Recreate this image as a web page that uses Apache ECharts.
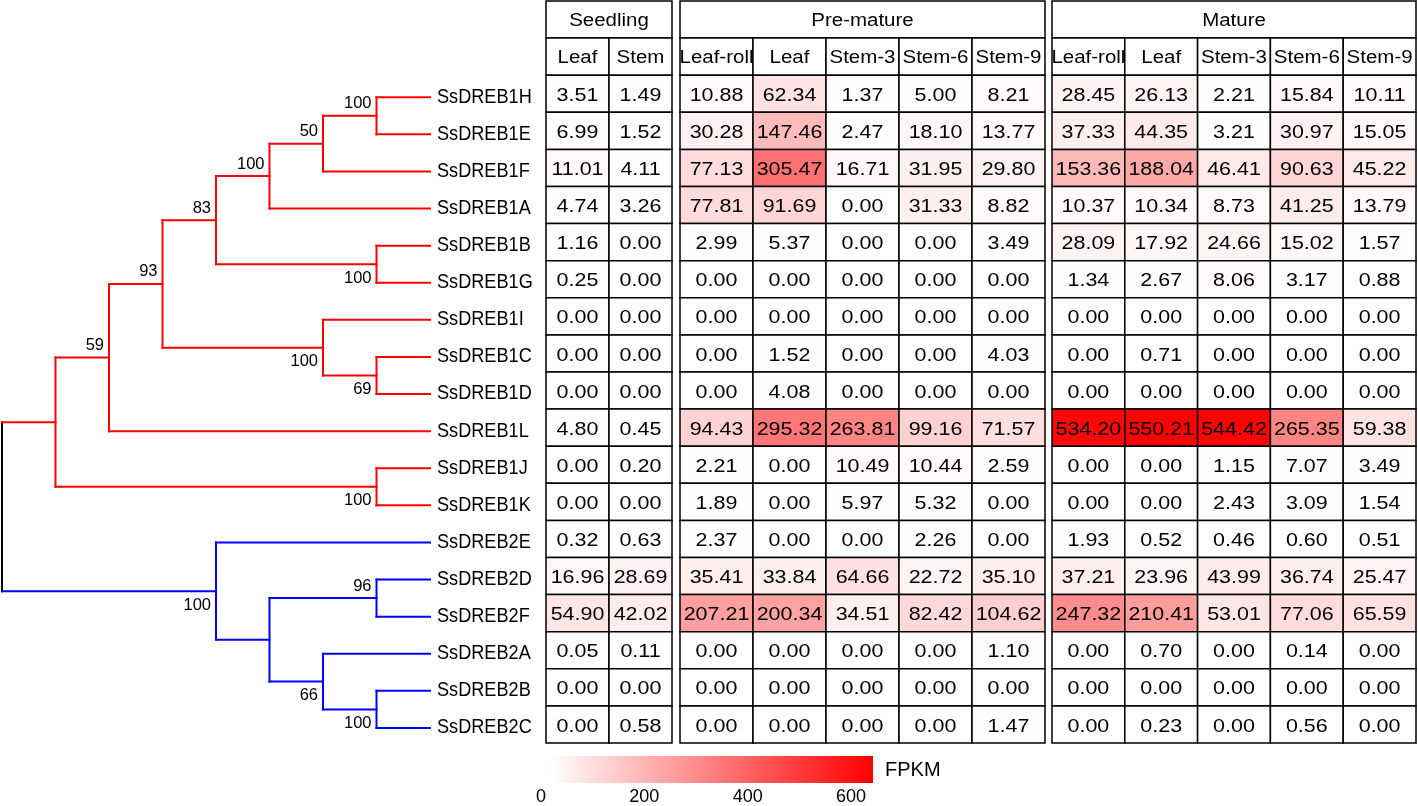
<!DOCTYPE html>
<html>
<head>
<meta charset="utf-8">
<script src="https://cdn.jsdelivr.net/npm/echarts@6/dist/echarts.min.js"></script>
<style>
html,body{margin:0;padding:0;background:#fff;}
#chart{width:1418px;height:806px;}
</style>
</head>
<body>
<div id="chart"></div>
<script>
// ---------- DATA ----------
const genes = ['SsDREB1H','SsDREB1E','SsDREB1F','SsDREB1A','SsDREB1B','SsDREB1G','SsDREB1I','SsDREB1C','SsDREB1D','SsDREB1L','SsDREB1J','SsDREB1K','SsDREB2E','SsDREB2D','SsDREB2F','SsDREB2A','SsDREB2B','SsDREB2C'];
const groups = ['Seedling','Pre-mature','Mature'];
const seedlingCols = ['Leaf','Stem'];
const prematureCols = ['Leaf-roll','Leaf','Stem-3','Stem-6','Stem-9'];
const matureCols = ['Leaf-roll','Leaf','Stem-3','Stem-6','Stem-9'];

const seedling = [
 [3.51,1.49],[6.99,1.52],[11.01,4.11],[4.74,3.26],[1.16,0.00],[0.25,0.00],
 [0.00,0.00],[0.00,0.00],[0.00,0.00],[4.80,0.45],[0.00,0.20],[0.00,0.00],
 [0.32,0.63],[16.96,28.69],[54.90,42.02],[0.05,0.11],[0.00,0.00],[0.00,0.58]
];
const premature = [
 [10.88,62.34,1.37,5.00,8.21],
 [30.28,147.46,2.47,18.10,13.77],
 [77.13,305.47,16.71,31.95,29.80],
 [77.81,91.69,0.00,31.33,8.82],
 [2.99,5.37,0.00,0.00,3.49],
 [0.00,0.00,0.00,0.00,0.00],
 [0.00,0.00,0.00,0.00,0.00],
 [0.00,1.52,0.00,0.00,4.03],
 [0.00,4.08,0.00,0.00,0.00],
 [94.43,295.32,263.81,99.16,71.57],
 [2.21,0.00,10.49,10.44,2.59],
 [1.89,0.00,5.97,5.32,0.00],
 [2.37,0.00,0.00,2.26,0.00],
 [35.41,33.84,64.66,22.72,35.10],
 [207.21,200.34,34.51,82.42,104.62],
 [0.00,0.00,0.00,0.00,1.10],
 [0.00,0.00,0.00,0.00,0.00],
 [0.00,0.00,0.00,0.00,1.47]
];
const mature = [
 [28.45,26.13,2.21,15.84,10.11],
 [37.33,44.35,3.21,30.97,15.05],
 [153.36,188.04,46.41,90.63,45.22],
 [10.37,10.34,8.73,41.25,13.79],
 [28.09,17.92,24.66,15.02,1.57],
 [1.34,2.67,8.06,3.17,0.88],
 [0.00,0.00,0.00,0.00,0.00],
 [0.00,0.71,0.00,0.00,0.00],
 [0.00,0.00,0.00,0.00,0.00],
 [534.20,550.21,544.42,265.35,59.38],
 [0.00,0.00,1.15,7.07,3.49],
 [0.00,0.00,2.43,3.09,1.54],
 [1.93,0.52,0.46,0.60,0.51],
 [37.21,23.96,43.99,36.74,25.47],
 [247.32,210.41,53.01,77.06,65.59],
 [0.00,0.70,0.00,0.14,0.00],
 [0.00,0.00,0.00,0.00,0.00],
 [0.00,0.23,0.00,0.56,0.00]
];
// tree: [id, bootstrap, children]; leaves are gene names
const tree = ['root', null, [
  ['red', null, [
    ['n59', 59, [
      ['n93', 93, [
        ['n83', 83, [
          ['n100a', 100, [
            ['n50', 50, [ ['nHE', 100, ['SsDREB1H','SsDREB1E']], 'SsDREB1F' ]],
            'SsDREB1A' ]],
          ['nBG', 100, ['SsDREB1B','SsDREB1G']] ]],
        ['nICD', 100, ['SsDREB1I', ['nCD', 69, ['SsDREB1C','SsDREB1D']]]] ]],
      'SsDREB1L' ]],
    ['nJK', 100, ['SsDREB1J','SsDREB1K']] ]],
  ['blue', 100, [
    'SsDREB2E',
    ['nB2', null, [
      ['nDF', 96, ['SsDREB2D','SsDREB2F']],
      ['n66', 66, ['SsDREB2A', ['nBC', 100, ['SsDREB2B','SsDREB2C']]]] ]] ]]
]];
const legendTicks = ['0','200','400','600'];
const legendTitle = 'FPKM';

// ---------- STYLE ----------
const supportBelow = ['nBG','nICD','nCD','nJK','blue','n66','nBC'];
const palette = ['#000000','#ff0000','#0000ff'];
const FONT = '"Liberation Sans", Arial, Helvetica, sans-serif';
const HEADER_ROWS = 2, NROWS = 20;

// ---------- TREE LAYOUT (topology only) ----------
function measure(node){
  if (typeof node === 'string') return {leaf:true, name:node, y: genes.indexOf(node) + HEADER_ROWS + 0.5, h:0};
  const kids = node[2].map(measure);
  const h = 1 + Math.max(...kids.map(k=>k.h));
  const y = kids.reduce((s,k)=>s+k.y,0)/kids.length;
  return {leaf:false, id:node[0], support:node[1], kids, y, h};
}
const rootM = measure(tree);
const H = rootM.h;
const segs = [], supports = [], supportSides = [];
function emit(n, colorIdx, isRoot){
  const x = H - n.h;
  const ys = n.kids.map(k=>k.y);
  segs.push([x, Math.min(...ys), x, Math.max(...ys), colorIdx]);
  n.kids.forEach((k,i)=>{
    const c = isRoot ? (i+1) : colorIdx;
    segs.push([x, k.y, H - k.h, k.y, c]);
    if (!k.leaf) emit(k, c, false);
  });
  if (n.support != null){
    supports.push([x, n.y, n.support]);
    supportSides.push(supportBelow.indexOf(n.id) >= 0 ? 1 : 0);
  }
}
emit(rootM, 0, true);

// ---------- TABLE DATA ----------
function blockCells(mat){
  const out = [];
  mat.forEach((row,r)=>row.forEach((v,c)=>out.push([c, r + HEADER_ROWS, v])));
  return out;
}
function headerCells(name, cols){
  const items = [[0, cols.length, 0]], labels = [name];
  cols.forEach((c,i)=>{ items.push([i, i+1, 1]); labels.push(c); });
  return {items, labels};
}
const blocks = [
  {cols: seedlingCols, data: seedling, left: 546, width: 126},
  {cols: prematureCols, data: premature, left: 680, width: 365},
  {cols: matureCols, data: mature, left: 1052, width: 364}
];

const chart = echarts.init(document.getElementById('chart'), null, {renderer:'canvas'});

const grids = [], xAxes = [], yAxes = [], series = [];
function hiddenAxis(extra){
  return Object.assign({type:'value', show:false, splitLine:{show:false}}, extra);
}
// grid 0 : tree
grids.push({left:2, width:428, top:4.5, height:742});
xAxes.push(hiddenAxis({gridIndex:0, min:0, max:H}));
yAxes.push(hiddenAxis({gridIndex:0, min:0, max:NROWS, inverse:true}));
// grids 1..3 : table blocks
blocks.forEach((b,i)=>{
  grids.push({left:b.left, width:b.width, top:1, height:742});
  xAxes.push(hiddenAxis({gridIndex:i+1, min:0, max:b.cols.length}));
  yAxes.push(hiddenAxis({gridIndex:i+1, min:0, max:NROWS, inverse:true}));
});
// grid 4 : colour bar (axis name carries the legend title)
grids.push({left:550, width:323, top:756, height:27});
xAxes.push({type:'value', gridIndex:4, min:0, max:1, position:'bottom', offset:-14,
  axisLine:{show:false}, axisTick:{show:false}, axisLabel:{show:false}, splitLine:{show:false},
  name: legendTitle, nameLocation:'end', nameGap:12,
  nameTextStyle:{color:'#000', fontSize:20, fontFamily:FONT, align:'left', verticalAlign:'middle'}});
yAxes.push(hiddenAxis({gridIndex:4, min:0, max:1}));
// grid 5 : colour bar tick labels
grids.push({left:541, width:310, top:756, height:27});
xAxes.push({type:'value', gridIndex:5, min:0, max:600, interval:200,
  axisLine:{show:false}, axisTick:{show:false}, splitLine:{show:false},
  axisLabel:{show:true, color:'#000', fontSize:18, fontFamily:FONT, margin:9,
    formatter:(v)=>{ const i = Math.round(v/200); return legendTicks[i] !== undefined ? legendTicks[i] : ''; }}});
yAxes.push(hiddenAxis({gridIndex:5, min:0, max:1}));

// tree branches
series.push({
  type:'custom', xAxisIndex:0, yAxisIndex:0, data: segs, clip:false, silent:true,
  renderItem(params, api){
    const p1 = api.coord([api.value(0), api.value(1)]);
    const p2 = api.coord([api.value(2), api.value(3)]);
    return {type:'line', shape:{x1:p1[0], y1:p1[1], x2:p2[0], y2:p2[1]},
      style:{stroke: palette[api.value(4)], lineWidth:2, lineCap:'square'}};
  }
});
// bootstrap values
series.push({
  type:'custom', xAxisIndex:0, yAxisIndex:0, data: supports, clip:false, silent:true,
  renderItem(params, api){
    const p = api.coord([api.value(0), api.value(1)]);
    const below = supportSides[params.dataIndex] === 1;
    return {type:'text', x: p[0]-5, y: p[1] + (below ? 14 : -12),
      style:{text: String(api.value(2)), x:0, y:0, align:'right', verticalAlign:'middle',
        fontSize:16.5, fontFamily:FONT, fill:'#000'}};
  }
});
// gene labels
series.push({
  type:'custom', xAxisIndex:0, yAxisIndex:0, clip:false, silent:true,
  data: genes.map((g,i)=>[H, i + HEADER_ROWS + 0.5]),
  renderItem(params, api){
    const p = api.coord([api.value(0), api.value(1)]);
    return {type:'text', x: p[0]+7, y: p[1], scaleX:0.93,
      style:{text: genes[params.dataIndex], x:0, y:0, align:'left', verticalAlign:'middle',
        fontSize:19.5, fontFamily:FONT, fill:'#000'}};
  }
});
// headers
blocks.forEach((b,i)=>{
  const hc = headerCells(groups[i], b.cols);
  series.push({
    type:'custom', xAxisIndex:i+1, yAxisIndex:i+1, data: hc.items, clip:false, silent:true,
    renderItem(params, api){
      const c0 = api.value(0), c1 = api.value(1), r = api.value(2);
      const p0 = api.coord([c0, r]), p1 = api.coord([c1, r+1]);
      return {type:'group', children:[
        {type:'rect', shape:{x:p0[0], y:p0[1], width:p1[0]-p0[0], height:p1[1]-p0[1]},
          style:{fill:'#ffffff', stroke:'#000', lineWidth:1.5}},
        {type:'text', x:(p0[0]+p1[0])/2, y:(p0[1]+p1[1])/2 + 1.5, scaleX:1.17,
          style:{text: hc.labels[params.dataIndex], x:0, y:0, align:'center', verticalAlign:'middle',
            fontSize:17.5, fontFamily:FONT, fill:'#000'}}
      ]};
    }
  });
});
// value cells
const dataSeriesIdx = [];
blocks.forEach((b,i)=>{
  dataSeriesIdx.push(series.length);
  series.push({
    type:'custom', xAxisIndex:i+1, yAxisIndex:i+1, data: blockCells(b.data), clip:false, silent:true,
    renderItem(params, api){
      const c = api.value(0), r = api.value(1), v = api.value(2);
      const p0 = api.coord([c, r]), p1 = api.coord([c+1, r+1]);
      return {type:'group', children:[
        {type:'rect', shape:{x:p0[0], y:p0[1], width:p1[0]-p0[0], height:p1[1]-p0[1]},
          style:{fill: api.visual('color'), stroke:'#000', lineWidth:1.5}},
        {type:'text', x:(p0[0]+p1[0])/2, y:(p0[1]+p1[1])/2 + 2, scaleX:1.16,
          style:{text: v.toFixed(2), x:0, y:0, align:'center', verticalAlign:'middle',
            fontSize:18.5, fontFamily:FONT, fill:'#000'}}
      ]};
    }
  });
});
// colour legend bar
series.push({
  type:'custom', xAxisIndex:4, yAxisIndex:4, data:[[0,0]], clip:false, silent:true,
  renderItem(params, api){
    const cs = params.coordSys;
    return {type:'rect', shape:{x:cs.x, y:cs.y, width:cs.width, height:cs.height},
      style:{fill:{type:'linear', x:0, y:0, x2:1, y2:0,
        colorStops:[{offset:0, color:'#ffffff'},{offset:1, color:'#ff0000'}]}}};
  }
});
// empty series to keep the tick-label axis alive
series.push({type:'custom', xAxisIndex:5, yAxisIndex:5, data:[], renderItem(){ return null; }});

const option = {
  backgroundColor:'#ffffff',
  animation:false,
  grid: grids, xAxis: xAxes, yAxis: yAxes,
  visualMap:[{type:'continuous', show:false, min:0, max:550.21, dimension:2,
    seriesIndex: dataSeriesIdx, inRange:{color:['#ffffff','#ff0000']}}],
  series: series
};
chart.setOption(option);
</script>
</body>
</html>
